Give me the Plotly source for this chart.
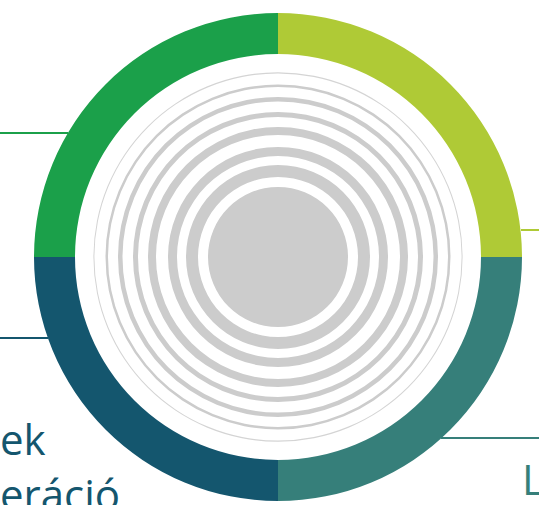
import plotly.graph_objects as go

W, H = 539, 505
CX, CY = 278, 257          # donut centre (pixels from top-left)
R_OUT = 244                # outer radius in pixels
R_IN = 203                 # inner radius in pixels

# ---- data ----
segment_labels = ["Szegmens 1", "Szegmens 2", "Szegmens 3", "Szegmens 4"]
segment_values = [25, 25, 25, 25]
segment_colors = ["#afca36", "#367f7a", "#14566e", "#1ba04a"]

ring_inner = [0, 80, 101, 122, 140, 155.5, 170, 183.6]
ring_outer = [70, 92, 110, 130, 145, 160, 172.5, 184.6]
ring_colors = ["#cccccc"] * 7 + ["#d4d4d4"]

label_left = "ek<br>eráció"
label_right = "L"

# domain for the circle
dom_x = [(CX - R_OUT) / W, (CX + R_OUT) / W]
dom_y = [(H - CY - R_OUT) / H, (H - CY + R_OUT) / H]

fig = go.Figure()

fig.add_trace(go.Barpolar(
    theta=[0] * len(ring_inner),
    width=[360] * len(ring_inner),
    base=ring_inner,
    r=[o - i for i, o in zip(ring_inner, ring_outer)],
    marker=dict(color=ring_colors, line=dict(width=0)),
    hoverinfo="skip",
    showlegend=False,
))

fig.add_trace(go.Pie(
    labels=segment_labels,
    values=segment_values,
    hole=R_IN / R_OUT,
    sort=False,
    direction="clockwise",
    rotation=0,
    marker=dict(colors=segment_colors, line=dict(width=0)),
    textinfo="none",
    hoverinfo="skip",
    domain=dict(x=dom_x, y=dom_y),
    showlegend=False,
))

fig.update_layout(
    width=W, height=H,
    margin=dict(l=0, r=0, t=0, b=0),
    paper_bgcolor="white",
    plot_bgcolor="white",
    showlegend=False,
    polar=dict(
        domain=dict(x=dom_x, y=dom_y),
        bgcolor="rgba(0,0,0,0)",
        radialaxis=dict(range=[0, R_OUT], visible=False),
        angularaxis=dict(visible=False),
    ),
)

# leader lines (pixel positions converted to paper fractions)
def px(x):
    return x / W

def py(y):
    return 1 - y / H

leaders = [
    (0, 68, 133, "#1ba04a"),
    (0, 48, 338, "#14566e"),
    (521, 539, 230, "#afca36"),
    (441, 539, 438, "#367f7a"),
]
for x0, x1, y, c in leaders:
    fig.add_shape(type="line", xref="paper", yref="paper",
                  x0=px(x0), x1=px(x1), y0=py(y), y1=py(y),
                  line=dict(color=c, width=2), layer="below")

fig.add_annotation(text=label_left, xref="paper", yref="paper", x=px(-2), y=py(466),
                   xanchor="left", yanchor="middle", align="left", showarrow=False,
                   font=dict(family="Open Sans", size=42, color="#14566e"))
fig.add_annotation(text=label_right, xref="paper", yref="paper", x=px(520), y=py(478),
                   xanchor="left", yanchor="middle", showarrow=False,
                   font=dict(family="Open Sans", size=42, color="#367f7a"))

fig.write_html("out.html", config={"displayModeBar": False},
               post_script="document.body.style.margin='0';")
